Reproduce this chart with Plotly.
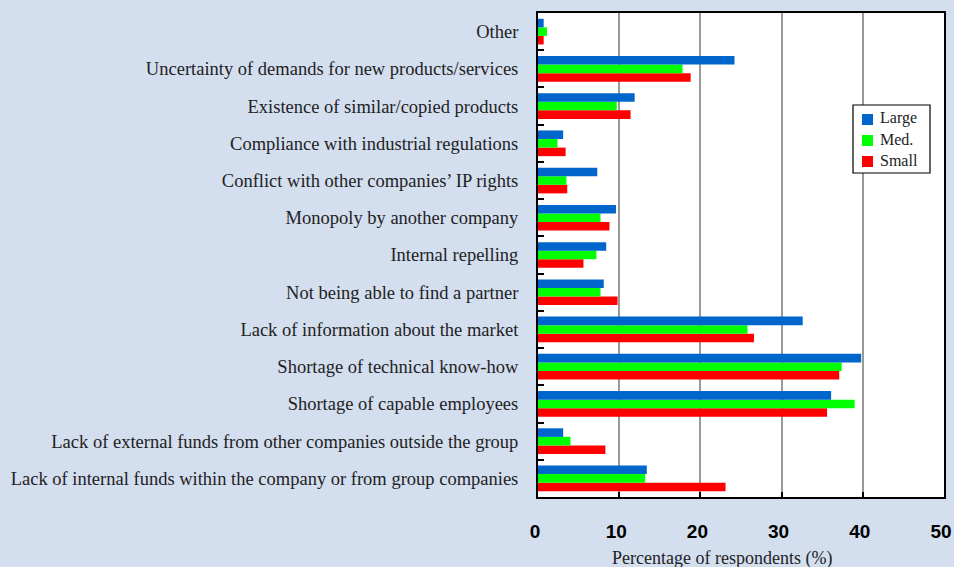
import plotly.graph_objects as go

# Obstacles to commercialising technology, by company size (bottom to top)
categories = [
    "Lack of internal funds within the company or from group companies",
    "Lack of external funds from other companies outside the group",
    "Shortage of capable employees",
    "Shortage of technical know-how",
    "Lack of information about the market",
    "Not being able to find a partner",
    "Internal repelling",
    "Monopoly by another company",
    "Conflict with other companies’ IP rights",
    "Compliance with industrial regulations",
    "Existence of similar/copied products",
    "Uncertainty of demands for new products/services",
    "Other",
]

large = [13.4, 3.1, 36.1, 39.8, 32.6, 8.1, 8.4, 9.6, 7.3, 3.1, 11.9, 24.2, 0.7]
med = [13.2, 4.0, 39.0, 37.4, 25.8, 7.7, 7.2, 7.7, 3.5, 2.4, 9.7, 17.8, 1.1]
small = [23.1, 8.3, 35.6, 37.1, 26.6, 9.8, 5.6, 8.8, 3.6, 3.4, 11.4, 18.8, 0.7]

series_names = ["Large", "Med.", "Small"]
series_colors = ["#0066cc", "#00ff00", "#ff0000"]

x_ticks = [0, 10, 20, 30, 40, 50]

BG = "#d3deef"
SERIF = "Liberation Serif"

# Plot-area geometry in pixels (used for the compact legend box)
W, H = 954, 567
ML, MR, MT, MB = 538, 10, 13, 70
PW, PH = W - ML - MR, H - MT - MB


def px(x):
    return (x - ML) / PW


def py(y):
    return (H - MB - y) / PH


fig = go.Figure()
# Added bottom-up so that Large sits on top within each group
for name, vals, color in reversed(list(zip(series_names, [large, med, small], series_colors))):
    fig.add_trace(go.Bar(
        y=categories, x=vals, name=name, orientation="h",
        marker=dict(color=color, line=dict(width=0)),
    ))

fig.update_layout(
    width=W, height=H,
    paper_bgcolor=BG, plot_bgcolor="white",
    margin=dict(l=ML, r=MR, t=MT, b=MB, autoexpand=False),
    barmode="group", bargap=0.31, bargroupgap=0,
    showlegend=False,
    xaxis=dict(
        range=[0, 50], tickvals=x_ticks, ticktext=[str(v) for v in x_ticks],
        automargin=False, ticklabeloverflow="allow", ticklabelshift=-3,
        showgrid=True, gridcolor="#9a9a9a", gridwidth=2,
        ticks="inside", ticklen=5, tickcolor="black", tickwidth=1.5,
        ticklabelstandoff=16,
        tickfont=dict(family="Liberation Sans", size=19, color="black", weight="bold"),
        showline=True, linecolor="black", linewidth=2, mirror=True,
        zeroline=False,
    ),
    yaxis=dict(
        type="category", categoryorder="array", categoryarray=categories,
        range=[-0.5, len(categories) - 0.5],
        automargin=False,
        tickson="boundaries", ticks="inside", ticklen=6,
        tickcolor="black", tickwidth=1.5,
        ticklabelstandoff=14,
        tickfont=dict(family=SERIF, size=18.5, color="#222"),
        showgrid=False,
        showline=True, linecolor="black", linewidth=2, mirror=True,
    ),
)

# Compact legend box
fig.add_shape(type="rect", xref="paper", yref="paper",
              x0=px(853), x1=px(930), y0=py(173), y1=py(105),
              fillcolor="white", line=dict(color="black", width=1.2))
for i, (name, color) in enumerate(zip(series_names, series_colors)):
    top = 114 + i * 21
    fig.add_shape(type="rect", xref="paper", yref="paper",
                  x0=px(862), x1=px(873), y0=py(top + 11), y1=py(top),
                  fillcolor=color, line=dict(width=0))
    fig.add_annotation(text=name, xref="paper", yref="paper",
                       x=px(878), y=py(top + 4), xanchor="left", yanchor="middle",
                       showarrow=False,
                       font=dict(family=SERIF, size=16, color="#222"))

# Axis title placed below the tick labels
fig.add_annotation(
    text="Percentage of respondents (%)",
    xref="paper", yref="paper",
    x=px(722), y=py(558),
    xanchor="center", yanchor="middle", showarrow=False,
    font=dict(family=SERIF, size=18, color="#222"),
)

fig.write_html("out.html")
